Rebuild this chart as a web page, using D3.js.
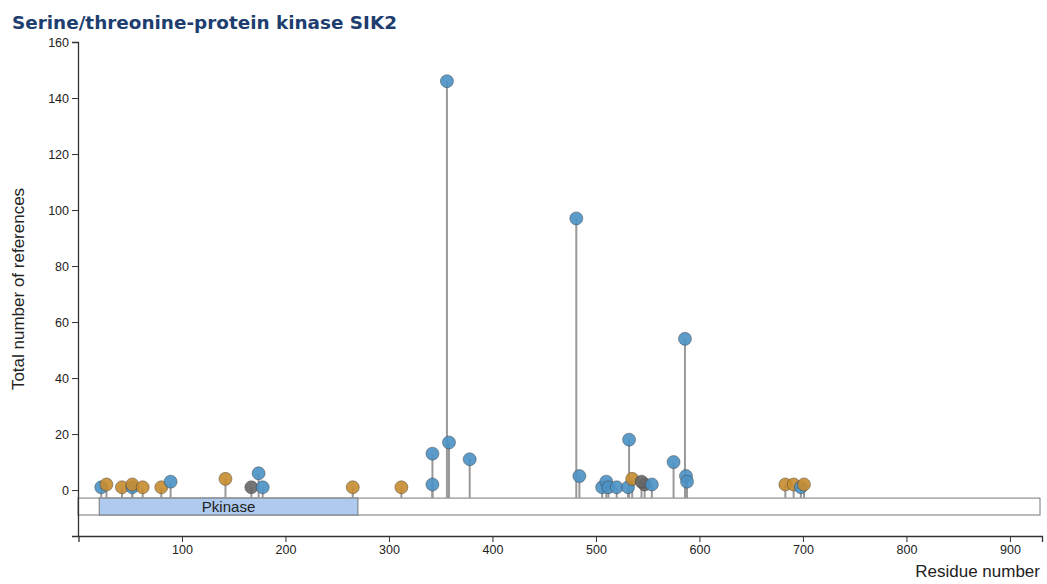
<!DOCTYPE html>
<html>
<head>
<meta charset="utf-8">
<script src="https://cdn.jsdelivr.net/npm/d3@7"></script>
<style>
    body { margin: 0; background: #fff; }
    svg { font-family: Arial, "Liberation Sans", sans-serif; }
</style>
</head>
<body>
<svg id="chart"></svg>
<script>
// site data
const residues = [22, 27, 42, 52, 52, 62, 80, 89, 142, 167, 174, 178, 265, 312,
    342, 342, 356, 358, 378, 481, 484, 506, 510, 512, 520, 531, 532, 535, 547, 544,
    554, 575, 586, 587, 588, 683, 691, 698, 701];
const references = [1, 2, 1, 1, 2, 1, 1, 3, 4, 1, 6, 1, 1, 1,
    2, 13, 146, 17, 11, 97, 5, 1, 3, 1, 1, 1, 18, 4, 2, 3,
    2, 10, 54, 5, 3, 2, 2, 1, 2];
const siteTypes = ['p', 'ub', 'ub', 'p', 'ub', 'ub', 'ub', 'p', 'ub', 'ac', 'p', 'p', 'ub', 'ub',
    'p', 'p', 'p', 'p', 'p', 'p', 'p', 'p', 'p', 'p', 'p', 'p', 'p', 'ub', 'ac', 'ac',
    'p', 'p', 'p', 'p', 'p', 'ub', 'ub', 'p', 'ub'];

const domainNames = ['Pkinase'];
const domainStart = [20];
const domainEnd = [270];

const proteinLength = 931;
const yTicks = [0, 20, 40, 60, 80, 100, 120, 140, 160];
const xTicks = [100, 200, 300, 400, 500, 600, 700, 800, 900];

const typeColor = { p: '#4a91c4', ub: '#c68c2e', ac: '#666666' };

const config = {
    width: 1047,
    height: 584,
    margin: { top: 42, right: 5, bottom: 48, left: 78 }
};

const svg = d3.select('#chart')
    .attr('width', config.width)
    .attr('height', config.height);

const inner_width = config.width - config.margin.left - config.margin.right;
const inner_height = config.height - config.margin.top - config.margin.bottom;

const chart = svg.append('g')
    .attr('transform', `translate(${config.margin.left}, ${config.margin.top})`);

const xscale = d3.scaleLinear()
    .domain([0, proteinLength])
    .range([0.5, inner_width]);

const yscale = d3.scaleLinear()
    .domain([-16.4, 160])
    .range([inner_height, 0]);

// title
svg.append('text')
    .attr('x', 12)
    .attr('y', 29)
    .style('font-family', '"DejaVu Sans", Verdana, sans-serif')
    .style('font-weight', 'bold')
    .style('font-size', '18.4px')
    .attr('fill', '#1d3e6e')
    .text('Serine/threonine-protein kinase SIK2');

// protein track
const trackTop = yscale(-2.86);
const trackBottom = yscale(-8.9);

chart.append('rect')
    .attr('x', 0)
    .attr('y', trackTop)
    .attr('width', xscale(proteinLength) - 2)
    .attr('height', trackBottom - trackTop)
    .attr('fill', '#fff')
    .attr('stroke', '#777')
    .attr('stroke-width', 1);

domainNames.forEach((name, i) => {
    chart.append('rect')
        .attr('x', xscale(domainStart[i]))
        .attr('y', trackTop)
        .attr('width', xscale(domainEnd[i]) - xscale(domainStart[i]))
        .attr('height', trackBottom - trackTop)
        .attr('fill', '#aecaee')
        .attr('stroke', '#777')
        .attr('stroke-width', 1);
    chart.append('text')
        .attr('x', (xscale(domainStart[i]) + xscale(domainEnd[i])) / 2)
        .attr('y', (trackTop + trackBottom) / 2 + 5)
        .attr('text-anchor', 'middle')
        .style('font-size', '15px')
        .attr('fill', '#222')
        .text(name);
});

// axes
const xaxis = d3.axisBottom(xscale).tickValues(xTicks).tickSizeOuter(6);
const yaxis = d3.axisLeft(yscale).tickValues(yTicks).tickSizeOuter(6);

const xg = chart.append('g')
    .attr('transform', `translate(0, ${inner_height})`)
    .call(xaxis);
const yg = chart.append('g').call(yaxis);

[xg, yg].forEach(g => {
    g.selectAll('path, line').attr('stroke', '#333');
    g.selectAll('text').style('font-size', '12.5px').attr('fill', '#222');
    g.select('.domain').attr('stroke-width', 1.3);
});

// axis labels
svg.append('text')
    .attr('x', 1040)
    .attr('y', 577)
    .attr('text-anchor', 'end')
    .style('font-size', '17px')
    .attr('fill', '#222')
    .text('Residue number');

svg.append('text')
    .attr('transform', 'rotate(-90)')
    .attr('x', -(config.margin.top + inner_height / 2))
    .attr('y', 24)
    .attr('text-anchor', 'middle')
    .style('font-size', '17px')
    .attr('fill', '#222')
    .text('Total number of references');

// lollipops
const sites = residues.map((r, i) => ({ residue: r, refs: references[i], type: siteTypes[i] }));

chart.selectAll('.stem')
    .data(sites)
    .join('line')
    .attr('class', 'stem')
    .attr('x1', d => xscale(d.residue))
    .attr('x2', d => xscale(d.residue))
    .attr('y1', trackTop)
    .attr('y2', d => yscale(d.refs))
    .attr('stroke', '#999')
    .attr('stroke-width', 2);

chart.selectAll('.site')
    .data(sites)
    .join('circle')
    .attr('class', 'site')
    .attr('cx', d => xscale(d.residue))
    .attr('cy', d => yscale(d.refs))
    .attr('r', 6.5)
    .attr('fill', d => typeColor[d.type])
    .attr('fill-opacity', 0.9)
    .attr('stroke', 'rgba(60,60,60,0.45)')
    .attr('stroke-width', 1);
</script>
</body>
</html>
